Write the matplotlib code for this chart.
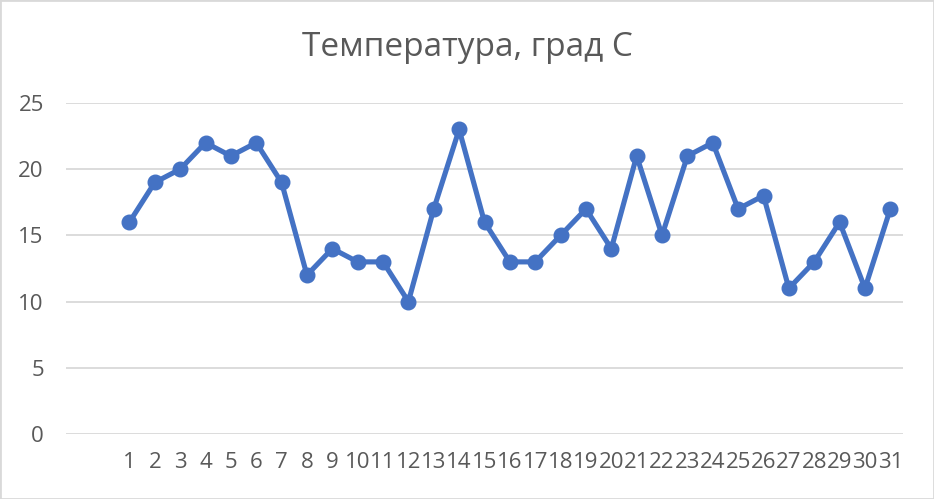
import numpy as np
import matplotlib.pyplot as plt
from matplotlib.patches import Rectangle

plt.rcParams['font.family'] = ['Open Sans', 'DejaVu Sans']

days = list(range(1, 32))
temps = [16, 19, 20, 22, 21, 22, 19, 12, 14, 13, 13, 10, 17, 23, 16, 13,
         13, 15, 17, 14, 21, 15, 21, 22, 17, 18, 11, 13, 16, 11, 17]
title = 'Температура, град С'

text_col = '#595959'
line_col = '#4472C4'

fig = plt.figure(figsize=(9.34, 4.99), dpi=100)
ax = fig.add_axes([66 / 934, 65 / 499, (903 - 66) / 934, (434 - 103) / 499])

ax.plot(days, temps, color=line_col, lw=3.7, marker='o', ms=10.5,
        solid_joinstyle='round', zorder=3)

ax.set_ylim(0, 25)
ax.set_yticks(np.arange(0, 26, 5))
ax.set_xlim(-1.5, 31.5)
ax.set_xticks(days)
ax.set_xticklabels([str(d) for d in days])

ax.grid(axis='y', color='#d9d9d9', lw=1.3)
ax.set_axisbelow(True)
for s in ax.spines.values():
    s.set_visible(False)
ax.tick_params(length=0, labelsize=16, colors=text_col)
ax.tick_params(axis='y', pad=16)
ax.tick_params(axis='x', pad=13)

fig.text(0.5, 1 - 48 / 499, title, ha='center', va='center',
         fontsize=24, color=text_col)

fig.patches.append(Rectangle((0, 0), 1, 1, transform=fig.transFigure,
                             fill=False, edgecolor='#d9d9d9', lw=2))

fig.savefig('out.png', dpi=100)
